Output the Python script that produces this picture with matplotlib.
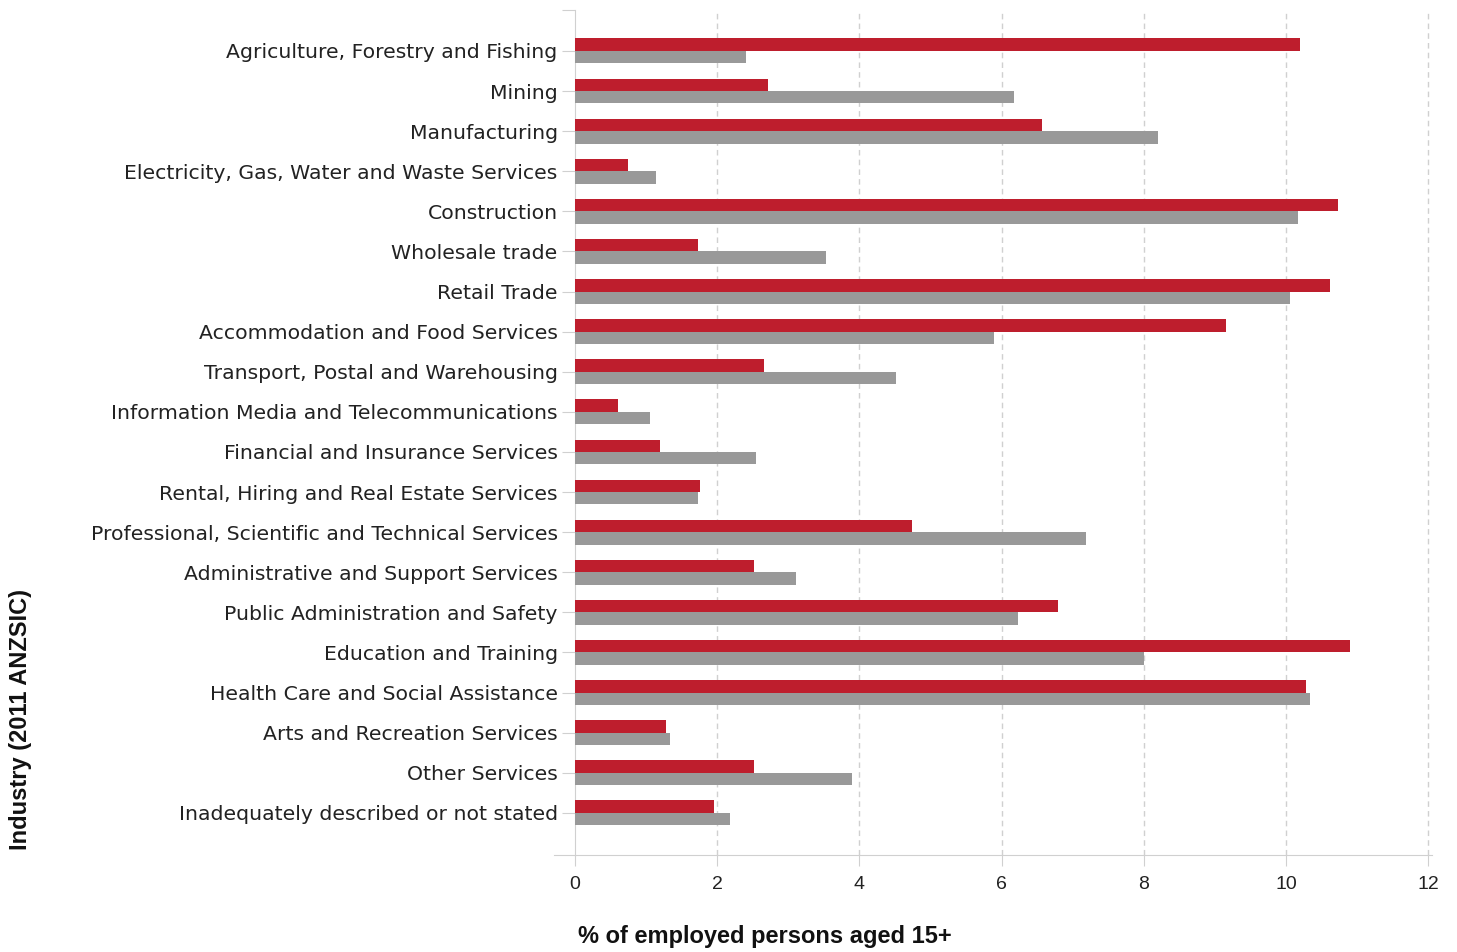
import matplotlib
matplotlib.use("Agg")
import matplotlib.pyplot as plt
import numpy as np

categories = [
    "Agriculture, Forestry and Fishing",
    "Mining",
    "Manufacturing",
    "Electricity, Gas, Water and Waste Services",
    "Construction",
    "Wholesale trade",
    "Retail Trade",
    "Accommodation and Food Services",
    "Transport, Postal and Warehousing",
    "Information Media and Telecommunications",
    "Financial and Insurance Services",
    "Rental, Hiring and Real Estate Services",
    "Professional, Scientific and Technical Services",
    "Administrative and Support Services",
    "Public Administration and Safety",
    "Education and Training",
    "Health Care and Social Assistance",
    "Arts and Recreation Services",
    "Other Services",
    "Inadequately described or not stated",
]
red_values = [10.20, 2.71, 6.57, 0.75, 10.73, 1.73, 10.62, 9.16, 2.66, 0.60,
              1.20, 1.76, 4.74, 2.52, 6.79, 10.90, 10.28, 1.28, 2.52, 1.95]
grey_values = [2.40, 6.17, 8.20, 1.14, 10.17, 3.53, 10.06, 5.89, 4.51, 1.05,
               2.55, 1.73, 7.19, 3.11, 6.23, 8.00, 10.34, 1.34, 3.90, 2.18]
x_ticks = [0, 2, 4, 6, 8, 10, 12]

RED = "#BE1E2D"
GREY = "#999999"
GRIDC = "#D0D0D0"

fig = plt.figure(figsize=(14.57, 9.52), dpi=100)
ax = fig.add_axes([575/1457, 97/952, (1432-575)/1457, (855-10)/952])

y = np.arange(len(categories))
h = 0.31
ax.barh(y - h/2, red_values, height=h, color=RED, zorder=3)
ax.barh(y + h/2, grey_values, height=h, color=GREY, zorder=3)

ax.set_xlim(0, 12.05)
ax.set_ylim(len(categories) - 1 + 1.05, -1.02)
ax.set_yticks(list(y) + [-1.02])
ax.set_yticklabels(categories + [""], fontsize=14.7, color="#222222",
                   family=["DejaVu Sans"])
ax.set_xticks(x_ticks)
ax.set_xticklabels([str(t) for t in x_ticks], fontsize=14, color="#222222",
                   family=["Liberation Sans Narrow", "Liberation Sans", "DejaVu Sans"])

for v in x_ticks[1:]:
    ax.axvline(v, color=GRIDC, lw=1, ls=(0, (4, 3)), zorder=1)

for s in ["top", "right"]:
    ax.spines[s].set_visible(False)
ax.spines["left"].set_color(GRIDC)
ax.spines["bottom"].set_color(GRIDC)
ax.spines["bottom"].set_bounds(-0.3, 12.05)
ax.tick_params(axis="y", length=9.5, color=GRIDC, pad=3)
ax.tick_params(axis="x", length=8, color=GRIDC, pad=7)
for t in ax.yaxis.get_ticklines():
    t.set_linestyle((0, (3, 2)))
for t in ax.xaxis.get_ticklines():
    t.set_linestyle((0, (2, 2)))

fig.text(578/1457, 1 - 937/952, "% of employed persons aged 15+", fontsize=17,
         fontweight="bold", ha="left", va="center", color="#111111",
         family=["Liberation Sans Narrow", "Liberation Sans", "DejaVu Sans"])
fig.text(21/1457, 1 - 720/952, "Industry (2011 ANZSIC)", fontsize=17,
         fontweight="bold", rotation=90, ha="center", va="center", color="#111111",
         family=["Liberation Sans", "DejaVu Sans"])

fig.savefig("out.png", dpi=100)
